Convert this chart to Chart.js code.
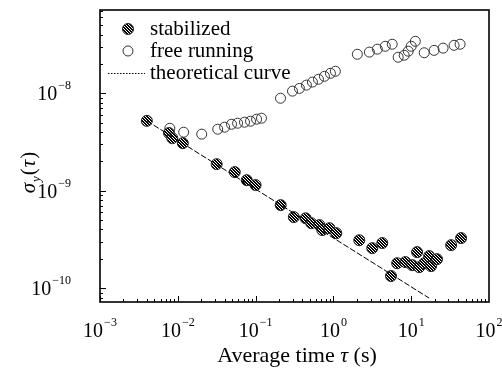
<!DOCTYPE html>
<html>
<head>
<meta charset="utf-8">
<script src="https://cdn.jsdelivr.net/npm/chart.js@4.4.1/dist/chart.umd.min.js"></script>
<style>
  html, body { margin: 0; padding: 0; background: #fff; }
  #wrap { width: 502px; height: 369px; }
</style>
</head>
<body>
<div id="wrap"><canvas id="c"></canvas></div>
<script>
// --- DATA ---
const stabTau = [0.0040, 0.0077, 0.0085, 0.0116, 0.0316, 0.054, 0.077, 0.100, 0.21, 0.31, 0.44, 0.52, 0.66, 0.72, 0.89, 1.09,
                 2.15, 3.16, 4.25, 5.5, 6.6, 8.4, 10.3, 11.9, 12.7, 14.7, 17.0, 18.0, 21.5, 32.6, 43.8];
const stabSigma = [5.2e-9, 3.9e-9, 3.45e-9, 3.07e-9, 1.87e-9, 1.55e-9, 1.28e-9, 1.14e-9, 7.1e-10, 5.35e-10, 5.2e-10, 4.64e-10,
                   4.43e-10, 3.94e-10, 4.12e-10, 3.66e-10, 3.1e-10, 2.57e-10, 2.9e-10, 1.33e-10, 1.8e-10, 1.85e-10, 1.72e-10,
                   2.34e-10, 1.64e-10, 1.8e-10, 2.13e-10, 1.68e-10, 1.98e-10, 2.76e-10, 3.26e-10];
const freeTau = [0.0079, 0.0119, 0.0203, 0.0326, 0.040, 0.049, 0.0587, 0.072, 0.086, 0.103, 0.119,
                 0.209, 0.298, 0.366, 0.45, 0.538, 0.643, 0.767, 0.916, 1.06,
                 2.03, 2.9, 3.67, 4.64, 5.7, 6.8, 8.13, 9.16, 10.0, 11.3, 14.7, 19.7, 25.7, 35.6, 42.5];
const freeSigma = [4.37e-9, 3.98e-9, 3.8e-9, 4.27e-9, 4.48e-9, 4.8e-9, 4.92e-9, 5.04e-9, 5.16e-9, 5.41e-9, 5.54e-9,
                   8.88e-9, 1.05e-8, 1.12e-8, 1.21e-8, 1.3e-8, 1.39e-8, 1.49e-8, 1.6e-8, 1.68e-8,
                   2.51e-8, 2.64e-8, 2.83e-8, 3.03e-8, 3.18e-8, 2.34e-8, 2.45e-8, 2.7e-8, 3.03e-8, 3.41e-8,
                   2.6e-8, 2.75e-8, 2.9e-8, 3.1e-8, 3.18e-8];
const theoryTau = [0.004, 17];
const theorySigma = [5.2e-9, 7.9e-11];

const xTickExp = [-3, -2, -1, 0, 1, 2];
const yTickExp = [-10, -9, -8];
const legendLabels = ['stabilized', 'free running', 'theoretical curve'];

const SERIF = '"Liberation Serif", "DejaVu Serif", serif';

// hatched fill for the stabilized markers
function makeHatch() {
    const c = document.createElement('canvas');
    c.width = 3; c.height = 3;
    const g = c.getContext('2d');
    g.fillStyle = '#fff';
    g.fillRect(0, 0, 3, 3);
    g.fillStyle = '#000';
    g.fillRect(0, 0, 1, 1); g.fillRect(1, 1, 1, 1); g.fillRect(2, 2, 1, 1);
    g.fillRect(1, 0, 1, 1); g.fillRect(2, 1, 1, 1); g.fillRect(0, 2, 1, 1);
    return g.createPattern(c, 'repeat');
}
const hatch = makeHatch();

const toPts = (xs, ys) => xs.map((v, i) => ({ x: v, y: ys[i] }));

// draws "10" with a raised exponent, centred on (cx, cy) or right aligned at cx
function drawPow(ctx, exp, cx, cy, align) {
    const base = '10', sup = (exp < 0 ? '\u2212' : '') + Math.abs(exp);
    ctx.font = '20px ' + SERIF;
    const wb = ctx.measureText(base).width;
    ctx.font = '12px ' + SERIF;
    const ws = ctx.measureText(sup).width;
    const left = align === 'right' ? cx - wb - ws - 1 : cx - (wb + ws + 1) / 2;
    ctx.textBaseline = 'middle';
    ctx.textAlign = 'left';
    ctx.font = '20px ' + SERIF;
    ctx.fillText(base, left, cy);
    ctx.font = '12px ' + SERIF;
    ctx.fillText(sup, left + wb + 1, cy - 9);
}

const framePlugin = {
    id: 'frame',
    afterDraw(chart) {
        const { ctx, chartArea: a, scales: { x, y } } = chart;
        ctx.save();
        ctx.fillStyle = '#000';
        ctx.strokeStyle = '#000';

        // box
        ctx.lineWidth = 1.6;
        ctx.strokeRect(a.left, a.top, a.right - a.left, a.bottom - a.top);

        // inward ticks, bottom and left
        ctx.lineWidth = 1;
        ctx.beginPath();
        for (let e = xTickExp[0]; e < xTickExp[xTickExp.length - 1]; e++) {
            for (let m = 1; m < 10; m++) {
                const px = Math.round(x.getPixelForValue(m * Math.pow(10, e))) + 0.5;
                ctx.moveTo(px, a.bottom);
                ctx.lineTo(px, a.bottom - (m === 1 ? 6 : 3));
            }
        }
        for (let e = -11; e <= -7; e++) {
            for (let m = 1; m < 10; m++) {
                const v = m * Math.pow(10, e);
                if (v < y.min || v > y.max) continue;
                const py = Math.round(y.getPixelForValue(v)) + 0.5;
                ctx.moveTo(a.left, py);
                ctx.lineTo(a.left + (m === 1 ? 6 : 3), py);
            }
        }
        ctx.stroke();

        // tick labels
        xTickExp.forEach(e => drawPow(ctx, e, x.getPixelForValue(Math.pow(10, e)), a.bottom + 30));
        yTickExp.forEach(e => drawPow(ctx, e, a.left - 29, y.getPixelForValue(Math.pow(10, e)) + 2, 'right'));

        // x title
        ctx.textBaseline = 'alphabetic';
        ctx.textAlign = 'left';
        const parts = [['Average time ', ''], ['\u03c4', 'italic '], [' (s)', '']];
        let total = 0;
        parts.forEach(p => { ctx.font = p[1] + '22px ' + SERIF; total += ctx.measureText(p[0]).width; });
        let px = 297 - total / 2;
        parts.forEach(p => {
            ctx.font = p[1] + '22px ' + SERIF;
            ctx.fillText(p[0], px, 362);
            px += ctx.measureText(p[0]).width;
        });

        // y title: sigma_y(tau), rotated
        ctx.save();
        ctx.translate(35, 172);
        ctx.rotate(-Math.PI / 2);
        const yp = [['\u03c3', 'italic ', 21, 0], ['y', 'italic ', 13, 5], ['(', '', 21, 0], ['\u03c4', 'italic ', 21, 0], [')', '', 21, 0]];
        total = 0;
        yp.forEach(p => { ctx.font = p[1] + p[2] + 'px ' + SERIF; total += ctx.measureText(p[0]).width + 1; });
        let tx = -total / 2;
        yp.forEach(p => {
            ctx.font = p[1] + p[2] + 'px ' + SERIF;
            ctx.fillText(p[0], tx, p[3]);
            tx += ctx.measureText(p[0]).width + 1;
        });
        ctx.restore();

        // legend
        ctx.font = '21px ' + SERIF;
        ctx.textBaseline = 'middle';
        const rows = [29, 51, 73];
        ctx.beginPath();
        ctx.arc(128, rows[0], 5.5, 0, Math.PI * 2);
        ctx.fillStyle = hatch;
        ctx.fill();
        ctx.strokeStyle = '#222';
        ctx.lineWidth = 1;
        ctx.stroke();
        ctx.beginPath();
        ctx.arc(128, rows[1], 5, 0, Math.PI * 2);
        ctx.fillStyle = '#fff';
        ctx.fill();
        ctx.strokeStyle = '#333';
        ctx.stroke();
        ctx.beginPath();
        ctx.setLineDash([1.5, 1.5]);
        ctx.moveTo(108, rows[2] + 0.5);
        ctx.lineTo(145, rows[2] + 0.5);
        ctx.strokeStyle = '#000';
        ctx.stroke();
        ctx.setLineDash([]);
        ctx.fillStyle = '#000';
        legendLabels.forEach((t, i) => ctx.fillText(t, 150, rows[i]));

        ctx.restore();
    }
};

new Chart(document.getElementById('c'), {
    type: 'scatter',
    data: {
        datasets: [
            {
                label: legendLabels[0],
                data: toPts(stabTau, stabSigma),
                pointRadius: 5.5,
                pointBackgroundColor: hatch,
                pointBorderColor: '#222',
                pointBorderWidth: 1,
                order: 1
            },
            {
                label: legendLabels[1],
                data: toPts(freeTau, freeSigma),
                pointRadius: 5,
                pointBackgroundColor: 'rgba(255,255,255,0)',
                pointBorderColor: '#333',
                pointBorderWidth: 1,
                order: 2
            },
            {
                label: legendLabels[2],
                data: toPts(theoryTau, theorySigma),
                showLine: true,
                pointRadius: 0,
                borderColor: '#000',
                borderWidth: 1,
                borderDash: [6, 2],
                order: 0
            }
        ]
    },
    options: {
        responsive: true,
        maintainAspectRatio: false,
        animation: false,
        devicePixelRatio: 1,
        layout: { padding: { left: 100, right: 13, top: 10, bottom: 67 } },
        plugins: { legend: { display: false }, tooltip: { enabled: false } },
        scales: {
            x: { type: 'logarithmic', min: 1e-3, max: 1e2, display: false },
            y: { type: 'logarithmic', min: 7.2e-11, max: 7.14e-8, display: false }
        }
    },
    plugins: [framePlugin]
});
</script>
</body>
</html>
